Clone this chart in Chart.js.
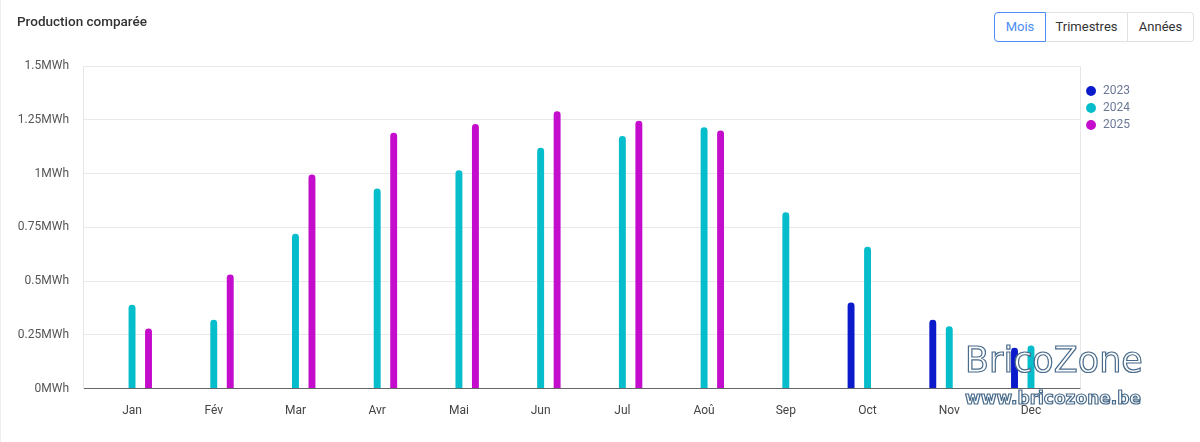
<!DOCTYPE html>
<html>
<head>
<meta charset="utf-8">
<script src="https://cdn.jsdelivr.net/npm/chart.js@4"></script>
<style>
  html, body { margin: 0; padding: 0; background: #fff; font-family: Roboto, "Noto Sans", sans-serif; }
  #wrap { position: relative; width: 1200px; height: 442px; overflow: hidden; border-left: 1px solid #eeeeee; box-sizing: border-box; }
  #title { position: absolute; left: 16px; top: 13px; font-size: 13.5px; font-weight: 500; color: #333; }
  #btns { position: absolute; left: 993px; top: 12px; display: flex; }
  #btns div { height: 30px; line-height: 28px; box-sizing: border-box; font-size: 13px; color: #333; border: 1px solid #e2e2e2; text-align: center; background: #fff; }
  #btns div + div { border-left: none; }
  #btns .on { color: #4c8df6; border-color: #4c8df6; border-radius: 4px 0 0 4px; }
  #btns .last { border-radius: 0 4px 4px 0; }
  canvas { position: absolute; left: 0; top: 0; }
  .wm { position: absolute; left: 964px; color: #fff; -webkit-text-stroke: 1.2px #4a6c8c; font-family: "DejaVu Sans", sans-serif; pointer-events: none; white-space: nowrap; }
  #wm1 { top: 343px; font-size: 35px; line-height: 35px; }
  #wm2 { top: 390px; font-size: 17px; line-height: 17px; font-weight: bold; }
</style>
</head>
<body>
<div id="wrap">
  <canvas id="prodChart" width="1200" height="442"></canvas>
  <div id="title">Production comparée</div>
  <div id="btns">
    <div class="on" style="width:52px">Mois</div>
    <div style="width:82px">Trimestres</div>
    <div class="last" style="width:66px">Années</div>
  </div>
  <div class="wm" id="wm1">BricoZone</div>
  <div class="wm" id="wm2">www.bricozone.be</div>
</div>
<script>
const months = ['Jan', 'Fév', 'Mar', 'Avr', 'Mai', 'Jun', 'Jul', 'Aoû', 'Sep', 'Oct', 'Nov', 'Dec'];
const years = ['2023', '2024', '2025'];
// MWh per month, null = no data
const prod2023 = [null, null, null, null, null, null, null, null, null, 0.40, 0.32, 0.19];
const prod2024 = [0.39, 0.32, 0.72, 0.93, 1.015, 1.12, 1.175, 1.215, 0.82, 0.66, 0.29, 0.20];
const prod2025 = [0.28, 0.53, 0.995, 1.19, 1.23, 1.29, 1.245, 1.20, null, null, null, null];
const yTicks = [0, 0.25, 0.5, 0.75, 1, 1.25, 1.5];
const colors = ['#0b1acb', '#06bdcc', '#c40ccc'];

function toPoints(arr) {
  return arr.map((v, i) => ({ x: i, y: v })).filter(p => p.y !== null);
}

// thin right edge of the plot box
const boxPlugin = {
  id: 'boxPlugin',
  beforeDatasetsDraw(chart) {
    const a = chart.chartArea;
    const c = chart.ctx;
    c.save();
    c.strokeStyle = '#e6e6e6';
    c.lineWidth = 1;
    c.beginPath();
    c.moveTo(Math.round(a.right) + 0.5, a.top);
    c.lineTo(Math.round(a.right) + 0.5, a.bottom);
    c.stroke();
    c.restore();
  }
};

const ctx = document.getElementById('prodChart').getContext('2d');
const chart = new Chart(ctx, {
  type: 'bar',
  data: {
    datasets: [prod2023, prod2024, prod2025].map((arr, i) => ({
      label: years[i],
      data: toPoints(arr),
      backgroundColor: colors[i],
      borderRadius: 4,
      borderSkipped: 'start',
      categoryPercentage: 0.605,
      barPercentage: 0.42
    }))
  },
  options: {
    responsive: false,
    animation: false,
    layout: { padding: { top: 66, left: 10, right: 61, bottom: 17 } },
    plugins: {
      legend: {
        position: 'right',
        align: 'start',
        title: { display: true, text: ' ', font: { size: 5 }, padding: 4 },
        labels: {
          usePointStyle: true,
          pointStyle: 'circle',
          boxWidth: 12,
          boxHeight: 7,
          padding: 5,
          color: '#6b7896',
          font: { family: 'Roboto', size: 12 }
        }
      },
      tooltip: { enabled: false }
    },
    scales: {
      x: {
        type: 'linear',
        offset: false,
        min: -0.6,
        max: 11.6,
        afterBuildTicks: (s) => { s.ticks = months.map((m, i) => ({ value: i })); },
        ticks: {
          autoSkip: false,
          maxRotation: 0,
          padding: 7,
          color: '#444',
          font: { family: 'Roboto', size: 12 },
          callback: (v) => months[v]
        },
        grid: { display: false },
        border: { display: true, color: '#666', width: 1 }
      },
      y: {
        min: 0,
        max: 1.5,
        afterBuildTicks: (s) => { s.ticks = yTicks.map(v => ({ value: v })); },
        afterFit: (s) => { s.width = 72; },
        ticks: {
          padding: 14,
          color: '#555',
          font: { family: 'Roboto', size: 12 },
          callback: (v) => v + 'MWh'
        },
        grid: { color: '#e9e9e9', drawTicks: false },
        border: { color: '#e6e6e6' }
      }
    }
  },
  plugins: [boxPlugin]
});
</script>
</body>
</html>
